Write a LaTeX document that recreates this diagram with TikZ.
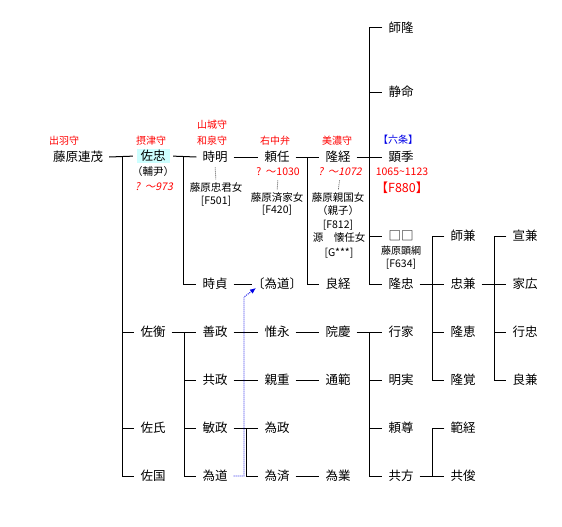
\documentclass[tikz,border=0pt]{standalone}
\usepackage{fontspec}
\setmainfont{Noto Sans CJK JP}[AutoFakeSlant=0.2]
\usepackage{tikz}
\usetikzlibrary{arrows.meta, calc}
\definecolor{myred}{RGB}{255,0,0}
\definecolor{myblue}{RGB}{0,0,230}
\definecolor{mycyan}{RGB}{204,255,255}
\definecolor{mygray}{RGB}{90,90,90}
\tikzset{
  person/.style={inner xsep=6pt, inner ysep=1pt, text height=11pt, text depth=1.5pt,
    font=\fontsize{12.5}{14}\selectfont},
  office/.style={text=myred, inner sep=0pt, text height=8.8pt, text depth=1.2pt,
    font=\fontsize{10}{12}\selectfont},
  note/.style={inner sep=0pt, text height=9.2pt, text depth=1.3pt,
    font=\fontsize{10.5}{12}\selectfont},
  dates/.style={text=myred, inner sep=0pt, text height=9pt, text depth=1.3pt,
    font=\fontsize{10.5}{12}\selectfont},
  line/.style={line width=1pt, color=black},
  spouse/.style={dash pattern=on 1pt off 1pt, line width=0.8pt, color=mygray,
    shorten <=3pt, shorten >=3pt},
  adopt/.style={dash pattern=on 1pt off 1pt, line width=0.9pt, color=myblue,
    -{Latex[length=6pt,width=5pt]}}
}
\begin{document}
\begin{tikzpicture}[x=1pt, y=-1pt]
  \useasboundingbox (0,0) rectangle (562,527);

  % Main line
  \node[person] (tsurashige) at (78,157) {藤原連茂};
  \node[person, fill=mycyan, inner xsep=4pt, minimum height=14pt] (suketada) at (153,156) {佐忠};
  \node[person] (tokiaki) at (215,157) {時明};
  \node[person] (yorito) at (277,157) {頼任};
  \node[person] (takatsune) at (338,157) {隆経};
  \node[person] (akisue) at (401,157) {顕季};
  \node[person] (morotaka) at (401,28) {師隆};
  \node[person] (jomyo) at (401,92) {静命};
  \node[person] (unknown) at (401,236) {□□};
  \node[person] (takatada) at (401,284) {隆忠};
  \node[person] (tokisada) at (215,284) {時貞};
  \node[person, inner xsep=0pt] (tamemichiB) at (277,284) {〔為道〕};
  \node[person] (yoshitsune) at (338,284) {良経};
  \node[person] (morokane) at (463,236) {師兼};
  \node[person] (tadakane) at (463,284) {忠兼};
  \node[person] (ryukei) at (463,332) {隆恵};
  \node[person] (ryukaku) at (463,380) {隆覚};
  \node[person] (nobukane) at (525,236) {宣兼};
  \node[person] (iehiro) at (525,284) {家広};
  \node[person] (yukitada) at (525,332) {行忠};
  \node[person] (yoshikane) at (525,380) {良兼};

  % Lower branch
  \node[person] (sukehira) at (153,332) {佐衡};
  \node[person] (sukeuji) at (153,428) {佐氏};
  \node[person] (sukekuni) at (153,476) {佐国};
  \node[person] (yoshimasa) at (215,332) {善政};
  \node[person] (tomomasa) at (215,380) {共政};
  \node[person] (toshimasa) at (215,428) {敏政};
  \node[person] (tamemichi) at (215,476) {為道};
  \node[person] (korenaga) at (277,332) {惟永};
  \node[person] (chikashige) at (277,380) {親重};
  \node[person] (tamemasa) at (277,428) {為政};
  \node[person] (tamezumi) at (277,476) {為済};
  \node[person] (inkei) at (338,332) {院慶};
  \node[person] (michinori) at (338,380) {通範};
  \node[person] (tamenari) at (338,476) {為業};
  \node[person] (yukiie) at (401,332) {行家};
  \node[person] (akizane) at (401,380) {明実};
  \node[person] (raison) at (401,428) {頼尊};
  \node[person] (tomokata) at (401,476) {共方};
  \node[person] (noritsune) at (463,428) {範経};
  \node[person] (tomotoshi) at (463,476) {共俊};

  % Offices and notes
  \node[office] (dewa) at (64,141) {出羽守};
  \node[office] (settsu) at (151,141) {摂津守};
  \node[office] (yamashiro) at (212,125) {山城守};
  \node[office] (izumi) at (212,141) {和泉守};
  \node[office] (uchuben) at (275,141) {右中弁};
  \node[office] (mino) at (337,141) {美濃守};
  \node[office, text=myblue] (rokujo) at (398,140) {【六条】};
  \node[note] (suketadaalt) at (153,172) {（輔尹）};
  \node[dates, font=\fontsize{10.5}{12}\selectfont\itshape] (suketadadate) at (154,187) {?\ \ ～973};
  \node[dates] (yoritodate) at (278,172) {?\ \ ～1030};
  \node[dates, font=\fontsize{10.5}{12}\selectfont\itshape] (takatsunedate) at (340,172) {?\ \ ～1072};
  \node[dates] (akisuedate) at (402,172) {1065\textasciitilde1123};
  \node[dates, text height=11pt, font=\fontsize{12.5}{14}\selectfont] (akisueid) at (402,188) {【F880】};
  \node[note] (wife1) at (216,188) {藤原忠君女};
  \node[note] (wife1id) at (216,201) {[F501]};
  \node[note] (wife2) at (277,198) {藤原済家女};
  \node[note] (wife2id) at (277,210) {[F420]};
  \node[note] (wife3) at (338,198) {藤原親国女};
  \node[note] (wife3alt) at (338,211) {（親子）};
  \node[note] (wife3id) at (338,225) {[F812]};
  \node[note] (wife4) at (339,238) {源　懐任女};
  \node[note] (wife4id) at (339,253) {[G***]};
  \node[note, font=\fontsize{10}{12}\selectfont] (unknownnote) at (401,251) {藤原顕綱};
  \node[note] (unknownid) at (401,264) {[F634]};

  \draw[spouse] (tokiaki.south) -- (wife1.north);
  \draw[spouse] (yoritodate.south) -- (wife2.north);
  \draw[spouse] (takatsunedate.south) -- (wife3.north);

  % Connectors
  \coordinate (f1) at ($(tsurashige.east)!.5!(suketada.west)$);
  \draw[line, shorten >=3.5pt] (tsurashige.east) -- (suketada.west);
  \draw[line] (f1) |- (sukekuni.west);
  \draw[line] (f1 |- sukehira) -- (sukehira.west);
  \draw[line] (f1 |- sukeuji) -- (sukeuji.west);

  \coordinate (f2) at ($(suketada.east)!.5!(tokiaki.west)$);
  \draw[line, shorten <=3.5pt] (suketada.east) -- (tokiaki.west);
  \draw[line] (f2) |- (tokisada.west);
  \draw[line] (tokiaki.east) -- (yorito.west);
  \draw[line] (tokisada.east) -- (tamemichiB.west);

  \coordinate (f3) at ($(yorito.east)!.5!(takatsune.west)$);
  \draw[line] (yorito.east) -- (takatsune.west);
  \draw[line] (f3) |- (yoshitsune.west);

  \coordinate (f4) at ($(takatsune.east)!.5!(akisue.west)$);
  \draw[line] (takatsune.east) -- (akisue.west);
  \draw[line] (morotaka.west) -| (f4 |- takatada) -- (takatada.west);
  \draw[line] (f4 |- jomyo) -- (jomyo.west);
  \draw[line] (f4 |- unknown) -- (unknown.west);

  \coordinate (f5) at ($(takatada.east)!.5!(tadakane.west)$);
  \draw[line] (takatada.east) -- (tadakane.west);
  \draw[line] (morokane.west) -| (f5 |- ryukaku) -- (ryukaku.west);
  \draw[line] (f5 |- ryukei) -- (ryukei.west);

  \coordinate (f6) at ($(tadakane.east)!.5!(iehiro.west)$);
  \draw[line] (tadakane.east) -- (iehiro.west);
  \draw[line] (nobukane.west) -| (f6 |- yoshikane) -- (yoshikane.west);
  \draw[line] (f6 |- yukitada) -- (yukitada.west);

  \coordinate (f7) at ($(sukehira.east)!.5!(yoshimasa.west)$);
  \draw[line] (sukehira.east) -- (yoshimasa.west);
  \draw[line] (f7) |- (tamemichi.west);
  \draw[line] (f7 |- tomomasa) -- (tomomasa.west);
  \draw[line] (f7 |- toshimasa) -- (toshimasa.west);
  \draw[line] (yoshimasa.east) -- (korenaga.west);
  \draw[line] (korenaga.east) -- (inkei.west);
  \draw[line] (tomomasa.east) -- (chikashige.west);
  \draw[line] (chikashige.east) -- (michinori.west);

  \coordinate (f8) at ($(toshimasa.east)!.5!(tamemasa.west)$);
  \draw[line] (toshimasa.east) -- (tamemasa.west);
  \draw[line] (f8) |- (tamezumi.west);
  \draw[line] (tamezumi.east) -- (tamenari.west);

  \coordinate (f9) at ($(inkei.east)!.5!(yukiie.west)$);
  \draw[line] (inkei.east) -- (yukiie.west);
  \draw[line] (f9) |- (tomokata.west);
  \draw[line] (f9 |- akizane) -- (akizane.west);
  \draw[line] (f9 |- raison) -- (raison.west);

  \coordinate (f10) at ($(tomokata.east)!.5!(tomotoshi.west)$);
  \draw[line] (tomokata.east) -- (tomotoshi.west);
  \draw[line] (noritsune.west) -| (f10);

  % Adoption
  \coordinate (adbend) at (244,297);
  \coordinate (adtip) at (256,288);
  \draw[adopt] (tamemichi.east) -| (adbend) -- (adtip);
\end{tikzpicture}
\end{document}
